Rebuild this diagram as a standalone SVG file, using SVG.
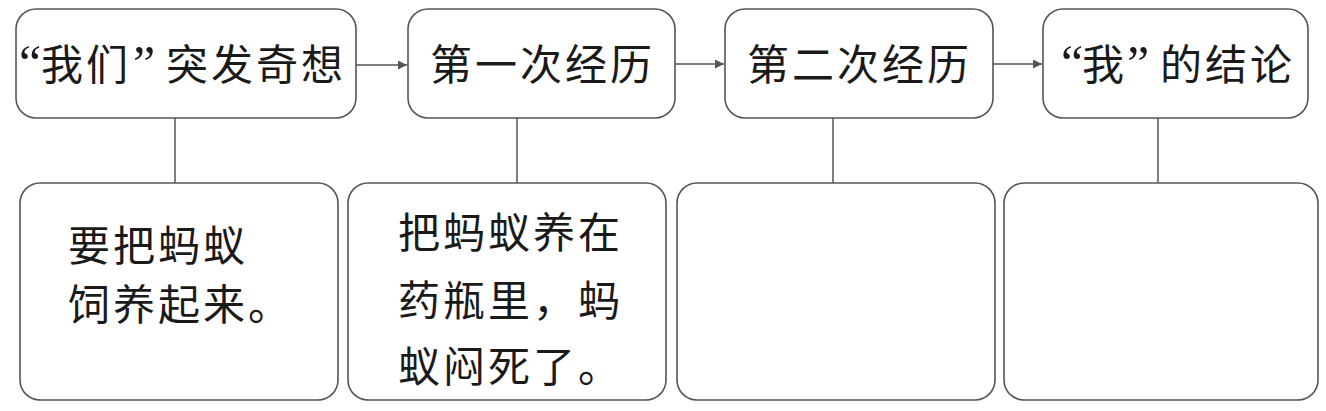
<svg xmlns="http://www.w3.org/2000/svg" width="1326" height="411" viewBox="0 0 1326 411">
<style>
.box{fill:#fff;stroke:#555;stroke-width:1.6}
.ln{stroke:#555;stroke-width:1.5;fill:none}
.t{font-family:"Noto Sans CJK SC","Noto Sans CJK JP",sans-serif;font-size:42px;fill:#1a1a1a;letter-spacing:3px}
.q{font-family:"Liberation Serif",serif;font-size:50px;letter-spacing:0}
</style>
<defs>
<marker id="ah" viewBox="0 0 10 10" refX="10" refY="5" markerWidth="13" markerHeight="9" markerUnits="userSpaceOnUse" orient="auto">
<path d="M0,0 L10,5 L0,10 Z" fill="#555"/>
</marker>
</defs>
<rect width="1326" height="411" fill="#fff"/>
<g id="connectors">
<line class="ln" x1="356" y1="65" x2="407" y2="65" marker-end="url(#ah)"/>
<line class="ln" x1="675" y1="64" x2="724" y2="64" marker-end="url(#ah)"/>
<line class="ln" x1="993" y1="64" x2="1042" y2="64" marker-end="url(#ah)"/>
<line class="ln" x1="175" y1="118" x2="175" y2="183"/>
<line class="ln" x1="517" y1="118" x2="517" y2="183"/>
<line class="ln" x1="833" y1="118" x2="833" y2="183"/>
<line class="ln" x1="1158" y1="118" x2="1158" y2="183"/>
</g>
<g id="n1"><rect class="box" x="16" y="9" width="340" height="109" rx="20"/><text class="t" y="80"><tspan class="q" x="19">“</tspan><tspan x="41">我们</tspan><tspan class="q" x="133">”</tspan><tspan x="166">突发奇想</tspan></text></g>
<g id="n2"><rect class="box" x="408" y="9" width="267" height="109" rx="20"/><text class="t" x="430" y="80">第一次经历</text></g>
<g id="n3"><rect class="box" x="725" y="9" width="268" height="109" rx="20"/><text class="t" x="747" y="80">第二次经历</text></g>
<g id="n4"><rect class="box" x="1043" y="9" width="265" height="109" rx="20"/><text class="t" y="80"><tspan class="q" x="1061">“</tspan><tspan x="1082">我</tspan><tspan class="q" x="1127">”</tspan><tspan x="1160">的结论</tspan></text></g>
<g id="b1"><rect class="box" x="20" y="183" width="318" height="217" rx="20"/><text class="t" x="68" y="261">要把蚂蚁</text><text class="t" x="68" y="320">饲养起来。</text></g>
<g id="b2"><rect class="box" x="348" y="183" width="318" height="217" rx="20"/><text class="t" x="398" y="248">把蚂蚁养在</text><text class="t" x="398" y="316">药瓶里，蚂</text><text class="t" x="398" y="382">蚁闷死了。</text></g>
<g id="b3"><rect class="box" x="677" y="183" width="318" height="217" rx="20"/></g>
<g id="b4"><rect class="box" x="1004" y="183" width="314" height="217" rx="20"/></g>
</svg>
